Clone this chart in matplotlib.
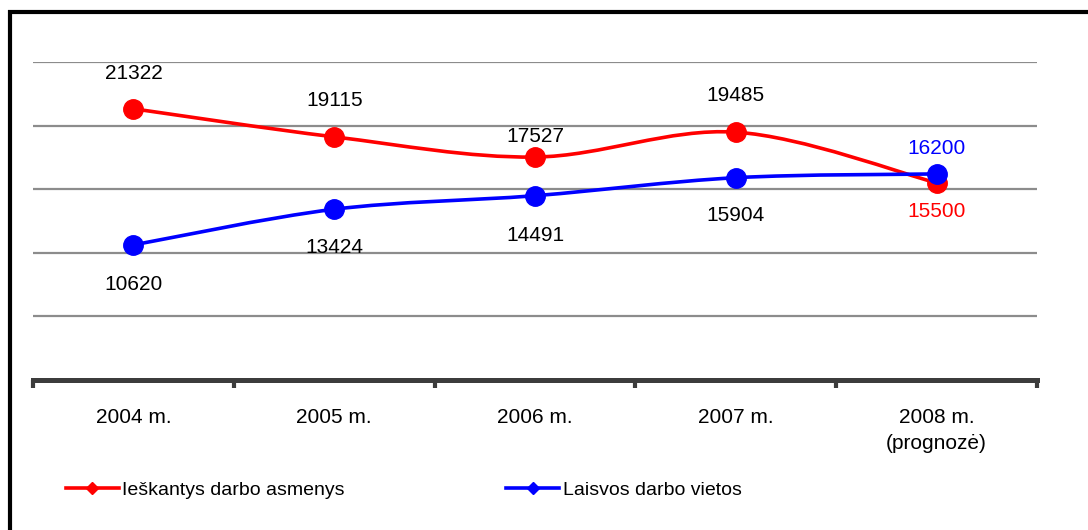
import matplotlib
matplotlib.use("Agg")
import matplotlib.pyplot as plt
from matplotlib.path import Path
from matplotlib.patches import PathPatch
from matplotlib.lines import Line2D

plt.rcParams['font.family'] = ['Liberation Sans', 'DejaVu Sans']

years = ['2004 m.', '2005 m.', '2006 m.', '2007 m.', '2008 m.\n(prognozė)']
seekers = [21322, 19115, 17527, 19485, 15500]
vacancies = [10620, 13424, 14491, 15904, 16200]
seekers_name = 'Ieškantys darbo asmenys'
vacancies_name = 'Laisvos darbo vietos'

RED = '#ff0000'
BLUE = '#0000ff'


def smooth_path(xs, ys):
    # Excel-like smoothed line: Catmull-Rom as cubic Bezier segments
    pts = list(zip(xs, ys))
    verts = [pts[0]]
    codes = [Path.MOVETO]
    n = len(pts)
    for i in range(n - 1):
        p0 = pts[i - 1] if i > 0 else pts[i]
        p1 = pts[i]
        p2 = pts[i + 1]
        p3 = pts[i + 2] if i + 2 < n else pts[i + 1]
        c1 = (p1[0] + (p2[0] - p0[0]) / 6, p1[1] + (p2[1] - p0[1]) / 6)
        c2 = (p2[0] - (p3[0] - p1[0]) / 6, p2[1] - (p3[1] - p1[1]) / 6)
        verts += [c1, c2, p2]
        codes += [Path.CURVE4] * 3
    return Path(verts, codes)


fig = plt.figure(figsize=(10.88, 5.30), dpi=100)
ax = fig.add_axes([33 / 1088, 1 - 380 / 530, 1004 / 1088, 318 / 530])

x = list(range(len(years)))
for vals, col in [(seekers, RED), (vacancies, BLUE)]:
    ax.add_patch(PathPatch(smooth_path(x, vals), fill=False, edgecolor=col,
                           lw=2.6, zorder=3, capstyle='round'))
    ax.plot(x, vals, 'o', color=col, ms=14, zorder=4)

ax.set_xlim(-0.5, 4.5)
ax.set_ylim(0, 25000)
ax.set_yticks([5000, 10000, 15000, 20000, 25000])
ax.yaxis.grid(True, color='#8c8c8c', lw=1.6)
ax.set_axisbelow(True)
ax.tick_params(axis='y', left=False, labelleft=False)
for s in ['top', 'right', 'left']:
    ax.spines[s].set_visible(False)
ax.spines['bottom'].set_color('#3c3c3c')
ax.spines['bottom'].set_linewidth(3.6)
ax.set_xticks(x)
ax.set_xticklabels(years, fontsize=15, linespacing=1.45)
ax.tick_params(axis='x', which='major', length=0, pad=20)
ax.set_xticks([i - 0.5 for i in range(len(years) + 1)], minor=True)
ax.tick_params(axis='x', which='minor', length=6, width=3, color='#3c3c3c')

# value labels (offsets in pixels)
seek_off = [35, 36, 21, 37, -29]
vac_off = [-40, -38, -40, -38, 25]
for i, v in enumerate(seekers):
    c = RED if i == len(seekers) - 1 else 'black'
    ax.annotate(str(v), (i, v), xytext=(0, seek_off[i]), textcoords='offset pixels',
                ha='center', va='center', fontsize=15, color=c)
for i, v in enumerate(vacancies):
    c = BLUE if i == len(vacancies) - 1 else 'black'
    ax.annotate(str(v), (i, v), xytext=(0, vac_off[i]), textcoords='offset pixels',
                ha='center', va='center', fontsize=15, color=c)

handles = [Line2D([], [], color=RED, lw=2.6, marker='D', ms=6),
           Line2D([], [], color=BLUE, lw=2.6, marker='D', ms=6)]
fig.legend(handles, [seekers_name, vacancies_name], loc='center left',
           bbox_to_anchor=(66 / 1088, 1 - 490 / 530), ncol=2, frameon=False,
           fontsize=14, handlelength=2.7, handletextpad=0.2, columnspacing=8.3,
           borderpad=0, borderaxespad=0)

# outer frame (left and top edges visible)
fig.add_artist(Line2D([9.5 / 1088, 9.5 / 1088], [0, 1 - 10 / 530], color='black',
                      lw=3, solid_capstyle='butt', transform=fig.transFigure))
fig.add_artist(Line2D([8 / 1088, 1], [1 - 12 / 530, 1 - 12 / 530], color='black',
                      lw=3, solid_capstyle='butt', transform=fig.transFigure))

fig.savefig('out.png', dpi=100)
